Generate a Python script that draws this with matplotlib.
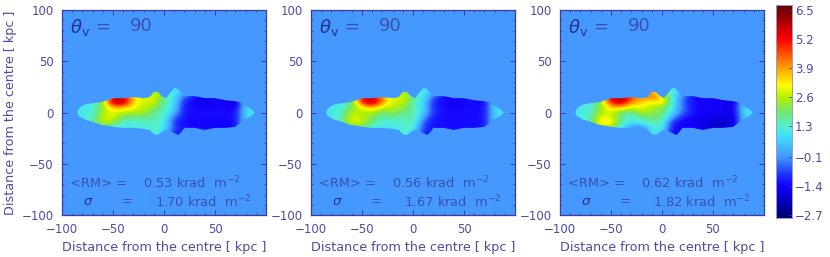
#!/usr/bin/env python3
"""Three RM maps at theta_v = 90 with a shared colour bar."""

import numpy as np
import matplotlib
matplotlib.use("Agg")
import matplotlib.pyplot as plt
from matplotlib.colors import LinearSegmentedColormap
from matplotlib.patches import Polygon

# map grid, krad m^-2
grid_x = [-90, -80, -70, -60, -50, -40, -30, -20, -10, 0, 10, 20, 30, 40, 50, 60, 70, 80, 90]
grid_y = [25, 20, 15, 10, 5, 0, -5, -10, -15, -20, -25]

rm_left = [
    [1, 1, 1, 1, 1, 1, 1, 1, 1.8, 1, 0.9, 0.6, -1.2, -1.2, -1.2, -1.2, -1.2, 0.9, 1],
    [1, 1, 1, 1.6, 3.6, 3.6, 3.2, 2.4, 2.9, 1.6, 0.9, 0.6, -1.2, -1.3, -1.3, -1.3, -1.3, 0.8, 1],
    [1, 1, 1, 1.9, 5.4, 5.6, 3.4, 2.6, 3.0, 1.8, 0.9, -0.5, -1.2, -1.5, -1.3, -1.3, -1.5, 0.8, 1],
    [1, 1, 1, 2.1, 6.2, 6.2, 3.4, 2.6, 3.0, 1.4, 0.9, -1.3, -1.3, -1.9, -1.3, -1.4, -2.0, 0.8, 1],
    [1, 1, 1, 2.3, 3.6, 3.8, 3.0, 2.7, 2.3, 1.4, 0.8, -1.3, -1.3, -1.5, -1.3, -1.3, -1.7, 0.8, 1],
    [1, 1, 1.1, 2.5, 3.0, 2.4, 2.6, 2.4, 1.8, 1.3, 0.4, -1.3, -1.3, -1.3, -1.3, -1.3, -1.3, 0.7, 1],
    [1, 1, 1.2, 2.8, 3.0, 1.8, 1.6, 1.8, 1.4, 1.4, -0.6, -1.3, -1.3, -1.3, -1.3, -1.3, -1.3, 0.7, 1],
    [1, 1, 1.4, 2.8, 2.2, 1.2, 1.1, 1.3, 1.4, 1.2, -1.0, -1.4, -1.4, -1.4, -1.5, -1.5, -1.4, 0.7, 1],
    [1, 1, 1.1, 1.3, 1.1, 1.0, 1.0, 1.0, 1.4, 1.1, -0.8, -1.2, -1.3, -1.3, -1.4, -1.4, -1.3, 0.7, 1],
    [1, 1, 1, 1, 1, 1, 1, 1.1, 1.4, 0.6, -1.2, -1.2, -1.2, -1.2, -1.2, -1.2, -1.2, 0.7, 1],
    [1, 1, 1, 1, 1, 1, 1, 1.1, 1.4, 0.4, -1.3, -1.3, -1.2, -1.2, -1.2, -1.2, -1.2, 0.7, 1],
]
rm_middle = [
    [1, 1, 1, 1, 1, 1, 1, 1, 1.8, 1, 0.9, 0.6, -1.2, -1.2, -1.2, -1.2, -1.2, 0.9, 1],
    [1, 1, 1, 1.5, 3.8, 3.6, 3.4, 2.4, 2.9, 1.5, 0.9, 0.6, -1.2, -1.3, -1.3, -1.3, -1.3, 0.8, 1],
    [1, 1, 1, 1.6, 5.4, 5.6, 4.0, 2.5, 3.0, 1.7, 0.9, -0.5, -1.3, -1.6, -1.3, -1.3, -1.3, 0.8, 1],
    [1, 1, 1, 1.6, 5.2, 6.3, 4.2, 2.6, 3.0, 1.4, 0.9, -1.2, -1.3, -1.7, -1.3, -1.3, -1.5, 0.8, 1],
    [1, 1, 1.1, 2.0, 3.0, 3.8, 2.8, 2.5, 2.3, 1.5, 0.8, -1.1, -1.3, -1.4, -1.3, -1.3, -1.3, 0.8, 1],
    [1, 1, 1.2, 2.8, 2.4, 2.5, 1.8, 2.3, 1.8, 1.6, 0.6, -0.9, -1.3, -1.3, -1.3, -1.3, -1.3, 0.7, 1],
    [1, 1, 1.4, 3.0, 2.6, 2.1, 1.3, 1.7, 1.2, 1.8, 0.0, -1.2, -1.3, -1.3, -1.3, -1.3, -1.3, 0.7, 1],
    [1, 1, 1.5, 3.0, 2.8, 1.7, 1.1, 1.2, 1.2, 1.6, -0.7, -1.3, -1.3, -1.3, -1.3, -1.3, -1.3, 0.7, 1],
    [1, 1, 1.1, 1.5, 1.5, 1.1, 0.9, 0.8, 1.3, 1.4, -0.9, -1.2, -1.3, -1.3, -1.3, -1.3, -1.3, 0.7, 1],
    [1, 1, 1, 1, 1, 1, 1, 1.1, 1.4, 0.8, -1.1, -1.2, -1.2, -1.2, -1.2, -1.2, -1.2, 0.7, 1],
    [1, 1, 1, 1, 1, 1, 1, 1.1, 1.4, 0.5, -1.3, -1.3, -1.2, -1.2, -1.2, -1.2, -1.2, 0.7, 1],
]
rm_right = [
    [1, 1, 1, 1, 1, 1, 1, 1, 3, 1.6, 1.0, 0.6, -1.2, -1.2, -1.2, -1.2, -1.2, 0.9, 1],
    [1, 1, 1, 1.6, 4.4, 4.0, 3.6, 3.2, 4.2, 2.6, 1.1, 0.4, -1.2, -1.3, -1.3, -1.3, -1.4, 0.8, 1],
    [1, 1, 1, 1.9, 6.0, 6.2, 4.6, 3.8, 4.6, 3.2, 1.1, -0.3, -1.3, -1.5, -1.4, -1.4, -1.8, 0.8, 1],
    [1, 1, 1, 2.1, 5.2, 6.0, 4.0, 3.6, 2.9, 3.6, 1.1, -0.5, -1.3, -1.4, -1.4, -1.5, -1.9, 0.8, 1],
    [1, 1, 1.1, 2.3, 3.4, 3.8, 2.8, 3.1, 2.4, 2.3, 1.0, -0.3, -1.3, -1.4, -1.4, -1.5, -1.6, 0.8, 1],
    [1, 1, 1.2, 2.6, 2.9, 1.8, 1.5, 2.7, 2.2, 2.0, 0.8, -0.5, -1.2, -1.4, -1.5, -1.5, -1.6, 0.7, 1],
    [1, 1, 1.3, 3.0, 3.0, 1.6, 1.0, 1.6, 1.8, 1.8, 0, -1.2, -1.4, -1.5, -1.6, -1.6, -1.8, 0.7, 1],
    [1, 1, 1.5, 3.7, 3.4, 1.6, 0.9, 1.1, 1.5, 1.6, -1.2, -1.4, -1.5, -1.7, -2.0, -1.9, -2.1, 0.7, 1],
    [1, 1, 1.2, 2.2, 2.0, 0.9, -0.4, -0.6, 1.0, 1.3, -1.3, -1.3, -1.4, -1.5, -1.9, -1.7, -1.4, 0.7, 1],
    [1, 1, 1, 1, 1, 0.8, 0, -0.6, 1.2, 0.8, -1.5, -1.4, -1.3, -1.3, -1.3, -1.3, -1.3, 0.7, 1],
    [1, 1, 1, 1, 1, 0.8, 0, -0.6, 1.2, 0.5, -1.6, -1.5, -1.3, -1.3, -1.3, -1.3, -1.3, 0.7, 1],
]

# outline of the emitting region, read clockwise from the left tip
edge_x = [-85, -84, -81, -77, -70, -62, -55, -50, -40, -30, -20, -14, -10, -6, -2, 2, 6, 10, 14, 17,
          20, 30, 40, 50, 60, 70, 75, 77, 81, 86, 89]
edge_top = [0, 3, 6, 8, 9, 10, 12, 14, 14, 15, 14, 15, 20, 20, 16, 14, 19, 24, 23, 19,
            16, 16, 14, 14, 12, 11, 10, 8, 6, 3, 0]
edge_bottom = [0, -3, -5, -7, -9, -12, -13, -14, -15, -15, -16, -17, -21, -22, -19, -17, -18, -20, -22, -19,
               -15, -15, -17, -15, -15, -14, -10, -7, -6, -3, 0]

rm_means = ["0.53", "0.56", "0.62"]
rm_sigmas = ["1.70", "1.67", "1.82"]
angle = "90"

ticks_major = [-100, -50, 0, 50, 100]
ticks_minor = [-90, -80, -70, -60, -40, -30, -20, -10, 10, 20, 30, 40, 60, 70, 80, 90]
bar_ticks = [6.5, 5.2, 3.9, 2.6, 1.3, -0.1, -1.4, -2.7]
bar_low, bar_high = -2.85, 6.72

text_col = "#4b4ba6"
inner_col = "#3a52ae"
dark_col = "#27308c"
frame_col = "#3b3b9e"

stops = [(-2.85, "#00006e"), (-2.2, "#0000b4"), (-1.4, "#1400ff"), (-0.8, "#2040ff"),
         (-0.1, "#4499ff"), (0.7, "#40d8ff"), (1.2, "#50f0d8"), (1.9, "#70e870"),
         (2.6, "#b8f000"), (3.1, "#ffff00"), (3.9, "#ffa000"), (5.2, "#ff0000"),
         (6.1, "#a00000"), (6.72, "#640000")]
cmap = LinearSegmentedColormap.from_list(
    "rm", [((v - bar_low) / (bar_high - bar_low), c) for v, c in stops])


def pixel_axes(fig, left, right, top, bottom):
    W, H = 830.0, 257.0
    return fig.add_axes([left / W, 1 - bottom / H, (right - left) / W, (bottom - top) / H])


plt.rcParams["font.family"] = "DejaVu Sans"
fig = plt.figure(figsize=(8.3, 2.57), dpi=100)

panels = [(62, 266, rm_left), (311, 515, rm_middle), (560, 764, rm_right)]
for i, (left, right, field) in enumerate(panels):
    ax = pixel_axes(fig, left, right, 10, 215)
    ax.set_facecolor("#4598ff")
    im = ax.imshow(np.array(field), cmap=cmap, vmin=bar_low, vmax=bar_high, aspect="auto",
                   interpolation="bicubic", extent=[-95, 95, -27.5, 27.5], zorder=1)
    outline = list(zip(edge_x, edge_top)) + list(zip(edge_x[::-1], edge_bottom[::-1]))
    im.set_clip_path(Polygon(outline, closed=True, transform=ax.transData))
    ax.set_xlim(-100, 100)
    ax.set_ylim(-100, 100)

    ax.set_xticks(ticks_major)
    ax.set_xticklabels(["\u2212100", "\u221250", "0", "50", ""])
    ax.set_yticks(ticks_major)
    ax.set_yticklabels(["\u2212100", "\u221250", "0", "50", "100"])
    ax.set_xticks(ticks_minor, minor=True)
    ax.set_yticks(ticks_minor, minor=True)
    ax.tick_params(which="major", direction="in", top=True, right=True, length=3.5, width=0.7,
                   color=frame_col, labelcolor=text_col, labelsize=8.5, pad=6)
    ax.tick_params(which="minor", direction="in", top=True, right=True, length=1.5, width=0.6,
                   color=frame_col)
    for s in ax.spines.values():
        s.set_color(frame_col)
        s.set_linewidth(0.9)

    ax.set_xlabel("Distance from the centre [ kpc ]", color=text_col, fontsize=9.2, labelpad=3)
    if i == 0:
        ax.set_ylabel("Distance from the centre [ kpc ]", color=text_col, fontsize=9.2, labelpad=3)

    ax.text(-92, 83, r"$\theta_{\rm v}$", color=dark_col, fontsize=13, va="center")
    ax.text(-68, 84, "=", color=inner_col, fontsize=13, va="center")
    ax.text(-33, 84, angle, color=inner_col, fontsize=13, va="center", ha="left")
    ax.text(-92, -69, "<RM> =", color=inner_col, fontsize=9.4, va="center")
    ax.text(-21, -69, rm_means[i] + " krad  m$^{-2}$", color=inner_col, fontsize=9.4, va="center")
    ax.text(-79, -87, r"$\sigma$", color=dark_col, fontsize=9.5, va="center")
    ax.text(-42, -87, "=", color=inner_col, fontsize=9.4, va="center")
    ax.text(-9, -87, rm_sigmas[i] + " krad  m$^{-2}$", color=inner_col, fontsize=9.4, va="center")

cax = pixel_axes(fig, 776, 792, 5, 218)
cax.imshow(np.linspace(bar_high, bar_low, 256).reshape(-1, 1), cmap=cmap, vmin=bar_low, vmax=bar_high,
           aspect="auto", extent=[0, 1, bar_low, bar_high])
cax.set_xticks([])
cax.yaxis.tick_right()
cax.set_yticks(bar_ticks)
cax.set_yticklabels([f"{v:.1f}".replace("-", "\u2212") for v in bar_ticks])
cax.tick_params(direction="in", length=2, width=0.6, color=frame_col, labelcolor=text_col,
                labelsize=8.5, pad=2)
for s in cax.spines.values():
    s.set_color("#9a9ac8")
    s.set_linewidth(0.7)

fig.savefig("out.png", dpi=100)
